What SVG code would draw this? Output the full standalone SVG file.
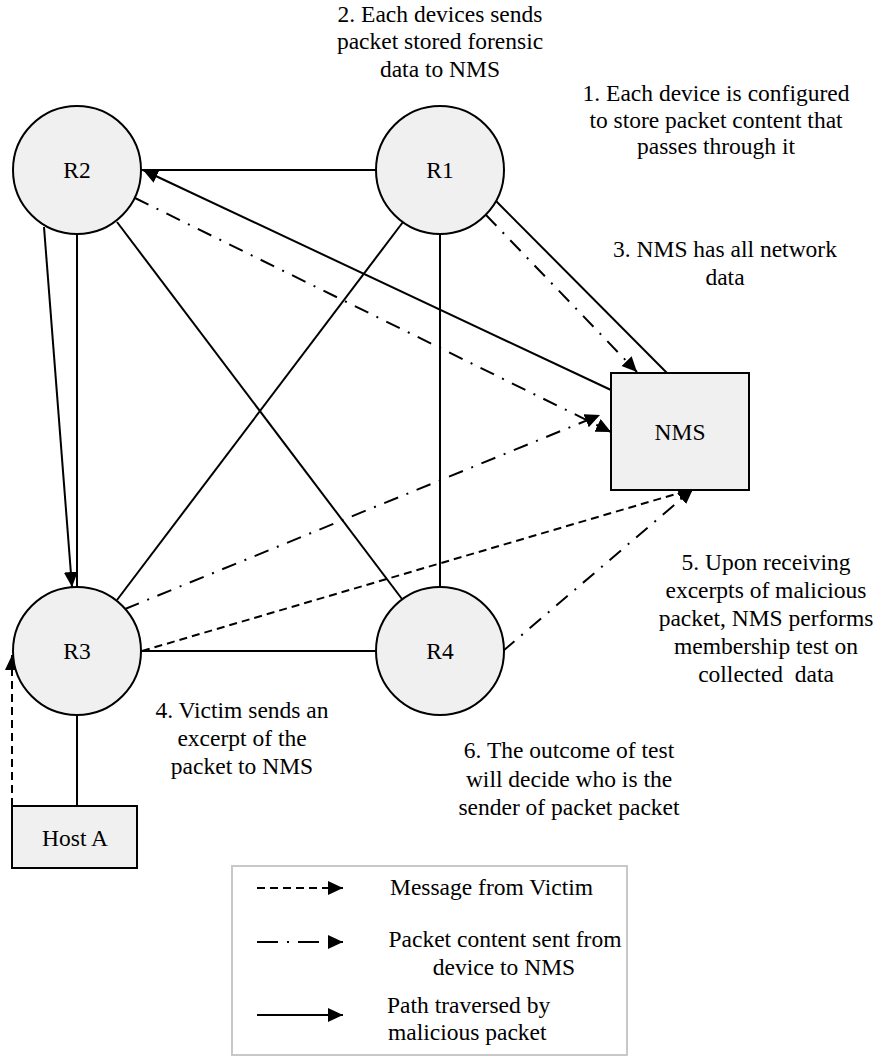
<svg xmlns="http://www.w3.org/2000/svg" width="882" height="1056" viewBox="0 0 882 1056">
<style>
text{font-family:'Liberation Serif','DejaVu Serif','Times New Roman',serif;font-size:23.5px;fill:#000}
.c{text-anchor:middle}
.node{fill:#f0f0f0;stroke:#000;stroke-width:2}
.ln{fill:none;stroke:#000;stroke-width:2}
.dash{stroke-dasharray:8 5}
.dd{stroke-dasharray:15 9 2 9}
.ldd{stroke-dasharray:21 9 2 9}
</style>
<defs>
<marker id="arr" markerUnits="userSpaceOnUse" markerWidth="17" markerHeight="16" refX="15" refY="7" orient="auto">
<path d="M0,0 L15,7 L0,14 z" fill="#000"/>
</marker>
</defs>
<rect width="882" height="1056" fill="#fff"/>
<g id="connectors">
<line class="ln" x1="376" y1="170" x2="142" y2="170"/>
<line class="ln" x1="611" y1="390" x2="143" y2="170" marker-end="url(#arr)"/>
<line class="ln" x1="496" y1="201" x2="668" y2="374"/>
<line class="ln dd" x1="486" y1="215" x2="637" y2="372" marker-end="url(#arr)"/>
<line class="ln dd" x1="135" y1="198" x2="611" y2="432" marker-end="url(#arr)"/>
<line class="ln dd" x1="125" y1="609" x2="600" y2="415" marker-end="url(#arr)"/>
<line class="ln dash" x1="142" y1="651" x2="693" y2="489" marker-end="url(#arr)"/>
<line class="ln dd" x1="503" y1="651" x2="693" y2="489" marker-end="url(#arr)"/>
<line class="ln" x1="141" y1="651" x2="376" y2="651"/>
<line class="ln" x1="117" y1="600" x2="403" y2="222"/>
<line class="ln" x1="117" y1="222" x2="402" y2="599"/>
<line class="ln" x1="440" y1="229" x2="440" y2="587"/>
<line class="ln" x1="44" y1="227" x2="72" y2="587" marker-end="url(#arr)"/>
<line class="ln" x1="77" y1="234" x2="77" y2="587"/>
<line class="ln" x1="77" y1="716" x2="77" y2="806"/>
<line class="ln dash" x1="12" y1="806" x2="12" y2="655" marker-end="url(#arr)"/>
</g>
<g id="R2"><circle class="node" cx="77" cy="170" r="64"/><text class="c" x="77" y="178">R2</text></g>
<g id="R1"><circle class="node" cx="440" cy="170" r="64"/><text class="c" x="440" y="178">R1</text></g>
<g id="R3"><circle class="node" cx="77" cy="651" r="64"/><text class="c" x="77" y="659">R3</text></g>
<g id="R4"><circle class="node" cx="440" cy="651" r="64"/><text class="c" x="440" y="659">R4</text></g>
<g id="NMS"><rect class="node" x="611" y="373" width="138" height="117"/><text class="c" x="680" y="440">NMS</text></g>
<g id="HostA"><rect class="node" x="12" y="806" width="125" height="62"/><text class="c" x="75" y="846">Host A</text></g>
<g id="notes">
<text class="c" x="440" y="22">2. Each devices sends</text>
<text class="c" x="440" y="49">packet stored forensic</text>
<text class="c" x="440" y="77">data to NMS</text>
<text class="c" x="716" y="101">1. Each device is configured</text>
<text class="c" x="716" y="128">to store packet content that</text>
<text class="c" x="716" y="154">passes through it</text>
<text class="c" x="725" y="257">3. NMS has all network</text>
<text class="c" x="725" y="285">data</text>
<text class="c" x="766" y="570">5. Upon receiving</text>
<text class="c" x="766" y="598">excerpts of malicious</text>
<text class="c" x="766" y="626">packet, NMS performs</text>
<text class="c" x="766" y="654">membership test on</text>
<text class="c" x="766" y="682" xml:space="preserve">collected  data</text>
<text class="c" x="242" y="718">4. Victim sends an</text>
<text class="c" x="242" y="746">excerpt of the</text>
<text class="c" x="242" y="774">packet to NMS</text>
<text class="c" x="569" y="758">6. The outcome of test</text>
<text class="c" x="569" y="787">will decide who is the</text>
<text class="c" x="569" y="815">sender of packet packet</text>
</g>
<g id="legend">
<rect x="232" y="866" width="395" height="189" fill="none" stroke="#c8c8c8" stroke-width="2"/>
<line class="ln dash" x1="257" y1="888" x2="343" y2="888" marker-end="url(#arr)"/>
<text x="390" y="895">Message from Victim</text>
<line class="ln ldd" x1="257" y1="942" x2="343" y2="942" marker-end="url(#arr)"/>
<text class="c" x="505" y="947">Packet content sent from</text>
<text class="c" x="504" y="975">device to NMS</text>
<line class="ln" x1="257" y1="1015" x2="343" y2="1015" marker-end="url(#arr)"/>
<text x="387" y="1013">Path traversed by</text>
<text x="388" y="1040">malicious packet</text>
</g>
</svg>
